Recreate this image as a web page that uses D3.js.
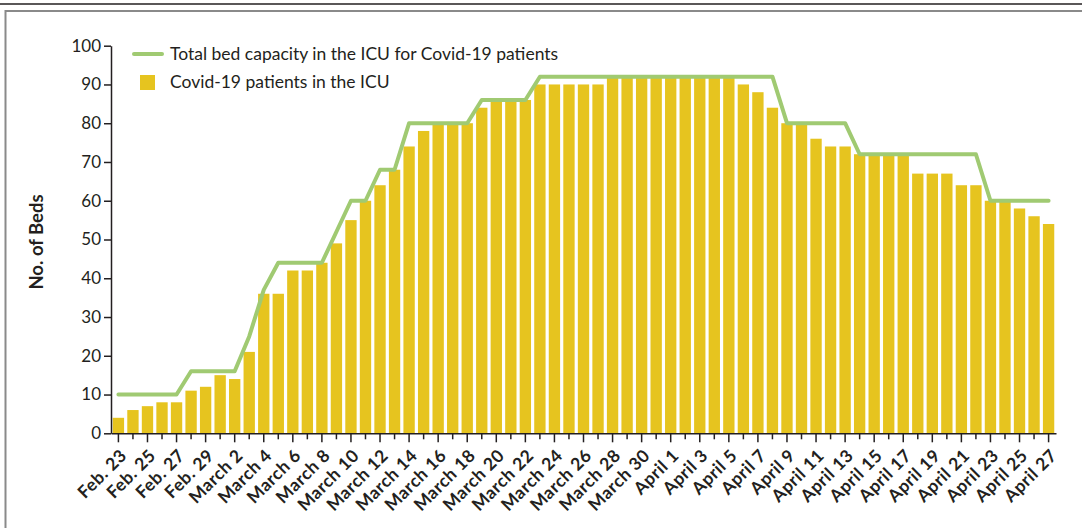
<html>
<head>
	<title>ICU beds</title>
	<script src="https://d3js.org/d3.v7.min.js" charset="utf-8"></script>
    <style type="text/css">
        body { margin: 0; background: #fff; }
        svg text { font-family: Lato, "Open Sans", sans-serif; fill: #231f20; }
    </style>
</head>
<body>
	<div id="chart"></div>
	<script>
		// one entry per day, Feb. 23 - April 27
		var days = [
			"Feb. 23","Feb. 24","Feb. 25","Feb. 26","Feb. 27","Feb. 28","Feb. 29",
			"March 1","March 2","March 3","March 4","March 5","March 6","March 7","March 8",
			"March 9","March 10","March 11","March 12","March 13","March 14","March 15",
			"March 16","March 17","March 18","March 19","March 20","March 21","March 22",
			"March 23","March 24","March 25","March 26","March 27","March 28","March 29",
			"March 30","March 31",
			"April 1","April 2","April 3","April 4","April 5","April 6","April 7","April 8",
			"April 9","April 10","April 11","April 12","April 13","April 14","April 15",
			"April 16","April 17","April 18","April 19","April 20","April 21","April 22",
			"April 23","April 24","April 25","April 26","April 27"
		];
		var patients = [
			4, 6, 7, 8, 8, 11, 12,
			15, 14, 21, 36, 36, 42, 42, 44, 49, 55, 60, 64, 68, 74, 78,
			80, 80, 80, 84, 86, 86, 86, 90, 90, 90, 90, 90, 92, 92, 92, 92,
			92, 92, 92, 92, 92, 90, 88, 84, 80, 80, 76, 74, 74, 72, 72,
			72, 72, 67, 67, 67, 64, 64, 60, 60, 58, 56, 54
		];
		var capacity = [
			10, 10, 10, 10, 10, 16, 16,
			16, 16, 25, 37, 44, 44, 44, 44, 52, 60, 60, 68, 68, 80, 80,
			80, 80, 80, 86, 86, 86, 86, 92, 92, 92, 92, 92, 92, 92, 92, 92,
			92, 92, 92, 92, 92, 92, 92, 92, 80, 80, 80, 80, 80, 72, 72,
			72, 72, 72, 72, 72, 72, 72, 60, 60, 60, 60, 60
		];
		var yTicks = [0, 10, 20, 30, 40, 50, 60, 70, 80, 90, 100];
		var legendLabels = ["Total bed capacity in the ICU for Covid-19 patients", "Covid-19 patients in the ICU"];

		var W = 1082, H = 528;
		var barColor = '#e6c41f', lineColor = '#a0ca72';

		var svg = d3.select('#chart').append('svg')
			.attr('width', W)
			.attr('height', H);

		// frame
		svg.append('line').attr('x1', 0).attr('x2', W).attr('y1', 4).attr('y2', 4)
			.style('stroke', '#231f20').style('stroke-width', 1.5);
		svg.append('path').attr('d', 'M5.5,' + H + 'V11H' + W)
			.style('fill', 'none').style('stroke', '#8a8a8a').style('stroke-width', 2);

		var xScale = d3.scaleBand()
			.domain(days)
			.range([111, 1056])
			.paddingInner(0.22)
			.paddingOuter(0.12);

		var yScale = d3.scaleLinear()
			.domain([0, 100])
			.range([433.3, 45.7]);

		// bars
		svg.append('g').selectAll('rect')
			.data(patients)
			.enter().append('rect')
				.style('fill', barColor)
				.attr('x', function(d, i){ return xScale(days[i]); })
				.attr('width', xScale.bandwidth())
				.attr('y', function(d){ return yScale(d); })
				.attr('height', function(d){ return yScale(0) - yScale(d); });

		// capacity line
		var line = d3.line()
			.x(function(d, i){ return xScale(days[i]) + xScale.bandwidth() / 2; })
			.y(function(d){ return yScale(d); });
		svg.append('path')
			.datum(capacity)
			.attr('d', line)
			.style('fill', 'none')
			.style('stroke', lineColor)
			.style('stroke-width', 4)
			.style('stroke-linejoin', 'round')
			.style('stroke-linecap', 'round');

		// y axis
		var yAxis = d3.axisLeft(yScale)
			.tickValues(yTicks)
			.tickSize(7)
			.tickSizeOuter(0)
			.tickPadding(3);
		var yGuide = svg.append('g').attr('transform', 'translate(111,0)').call(yAxis);
		yGuide.attr('font-family', null).attr('font-size', null);
		yGuide.select('.domain').style('stroke', '#231f20').style('stroke-width', 1.5);
		yGuide.selectAll('line').style('stroke', '#231f20').style('stroke-width', 1.5);
		yGuide.selectAll('text').style('font-size', '17px');

		// x axis
		var xAxis = d3.axisBottom(xScale)
			.tickSize(6)
			.tickSizeOuter(0)
			.tickFormat(function(d, i){ return i % 2 ? '' : d; });
		var xGuide = svg.append('g').attr('transform', 'translate(0,433.3)').call(xAxis);
		xGuide.attr('font-family', null).attr('font-size', null);
		xGuide.select('.domain').style('stroke', '#231f20').style('stroke-width', 1.5);
		xGuide.selectAll('line')
			.style('stroke', '#231f20').style('stroke-width', 1.5)
			.attr('y2', function(d, i){ return i % 2 ? 6 : 9; });
		xGuide.selectAll('text')
			.style('font-size', '17.5px')
			.style('font-weight', 'bold')
			.style('letter-spacing', '0.5px')
			.style('text-anchor', 'end')
			.attr('dy', '0.35em')
			.attr('y', 0)
			.attr('transform', 'translate(5,19) rotate(-45)');

		// y title
		svg.append('text')
			.attr('transform', 'translate(43,242) rotate(-90)')
			.style('text-anchor', 'middle')
			.style('font-size', '18.5px')
			.style('font-weight', 'bold')
			.text('No. of Beds');

		// legend
		var legend = svg.append('g');
		legend.append('line')
			.attr('x1', 134).attr('x2', 162).attr('y1', 54).attr('y2', 54)
			.style('stroke', lineColor).style('stroke-width', 4).style('stroke-linecap', 'round');
		legend.append('rect')
			.attr('x', 140).attr('y', 75).attr('width', 15).attr('height', 15)
			.style('fill', barColor);
		legend.selectAll('text')
			.data(legendLabels)
			.enter().append('text')
				.attr('x', 170)
				.attr('y', function(d, i){ return 54 + i * 28; })
				.attr('dy', '0.35em')
				.style('font-size', '17.5px')
				.text(function(d){ return d; });
	</script>
</body>
</html>
